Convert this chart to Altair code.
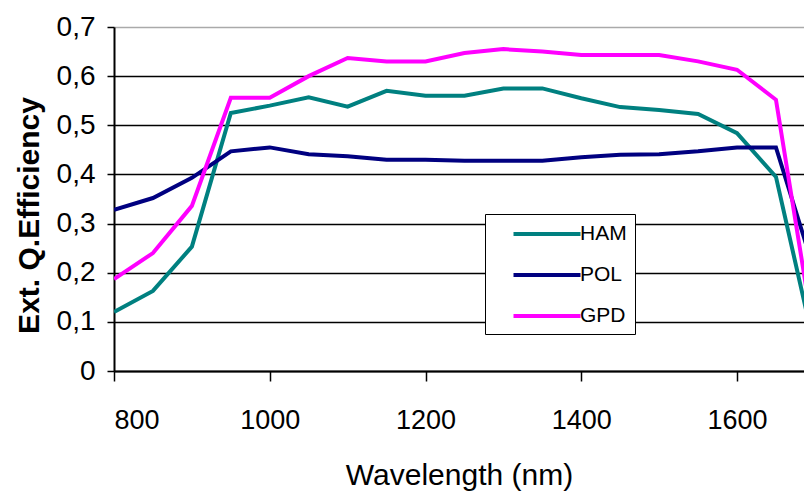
import altair as alt
import pandas as pd

wavelength = [800, 850, 900, 950, 1000, 1050, 1100, 1150, 1200, 1250, 1300,
              1350, 1400, 1450, 1500, 1550, 1600, 1650, 1700]
ham = [0.12, 0.163, 0.253, 0.525, 0.54, 0.557, 0.538, 0.57, 0.56, 0.56, 0.575,
       0.575, 0.555, 0.537, 0.531, 0.523, 0.484, 0.395, 0.045]
pol = [0.328, 0.352, 0.393, 0.447, 0.455, 0.441, 0.437, 0.43, 0.43, 0.428, 0.428,
       0.428, 0.435, 0.44, 0.441, 0.447, 0.455, 0.455, 0.2]
gpd = [0.187, 0.24, 0.336, 0.556, 0.556, 0.6, 0.637, 0.63, 0.63, 0.647, 0.655,
       0.65, 0.643, 0.643, 0.643, 0.63, 0.613, 0.552, 0.06]

series_names = ["HAM", "POL", "GPD"]
series_colors = ["#008080", "#000080", "#FF00FF"]
x_ticks = [800, 1000, 1200, 1400, 1600]
y_ticks = [0, 0.1, 0.2, 0.3, 0.4, 0.5, 0.6, 0.7]

rows = []
for name, vals in zip(series_names, [ham, pol, gpd]):
    for w, v in zip(wavelength, vals):
        rows.append({"wavelength": w, "qe": v, "series": name})
df = pd.DataFrame(rows)

FONT = "Liberation Sans"

chart = alt.Chart(df).mark_line(strokeWidth=4, clip=True).encode(
    x=alt.X("wavelength:Q",
            scale=alt.Scale(domain=[800, 1686], nice=False, zero=False),
            axis=alt.Axis(values=x_ticks, format="d", title="Wavelength (nm)", grid=False,
                          tickSize=10, labelPadding=26, titlePadding=27,
                          labelFontSize=27, titleFontSize=30, titleFontWeight="normal",
                          domainColor="black", domainWidth=2, tickColor="black",
                          tickWidth=1.5, labelColor="black", titleColor="black",
                          labelFont=FONT, titleFont=FONT)),
    y=alt.Y("qe:Q",
            scale=alt.Scale(domain=[0, 0.7], nice=False),
            axis=alt.Axis(values=y_ticks, title="Ext. Q.Efficiency",
                          labelExpr="datum.value == 0 ? '0' : replace(format(datum.value, '.1f'), '.', ',')",
                          grid=True,
                          gridColor=alt.condition("datum.value >= 0.69", alt.value("#aaaaaa"), alt.value("black")),
                          gridWidth=1.5,
                          tickSize=7, labelPadding=12, titlePadding=12, titleY=188,
                          labelFontSize=28, titleFontSize=30, titleFontWeight="bold",
                          domainColor="black", domainWidth=2, tickColor="black",
                          tickWidth=1.5, labelColor="black", titleColor="black",
                          labelFont=FONT, titleFont=FONT)),
    color=alt.Color("series:N",
                    scale=alt.Scale(domain=series_names, range=series_colors),
                    sort=series_names,
                    legend=alt.Legend(title=None, orient="none", legendX=371, legendY=187,
                                      symbolType="M-3.35,0H3.35", symbolSize=400,
                                      symbolStrokeWidth=4, symbolOffset=42,
                                      labelFontSize=21, labelFont=FONT, labelColor="black",
                                      labelOffset=21, padding=8, rowPadding=19,
                                      strokeColor="black", fillColor="white")),
).properties(
    width=690, height=344,
    padding={"left": 114, "top": 27, "right": 0, "bottom": 124},
    autosize=alt.AutoSizeParams(type="none"),
).configure_view(stroke=None).configure(background="white")

chart.save("out.html", embed_options={"renderer": "svg", "actions": False})
